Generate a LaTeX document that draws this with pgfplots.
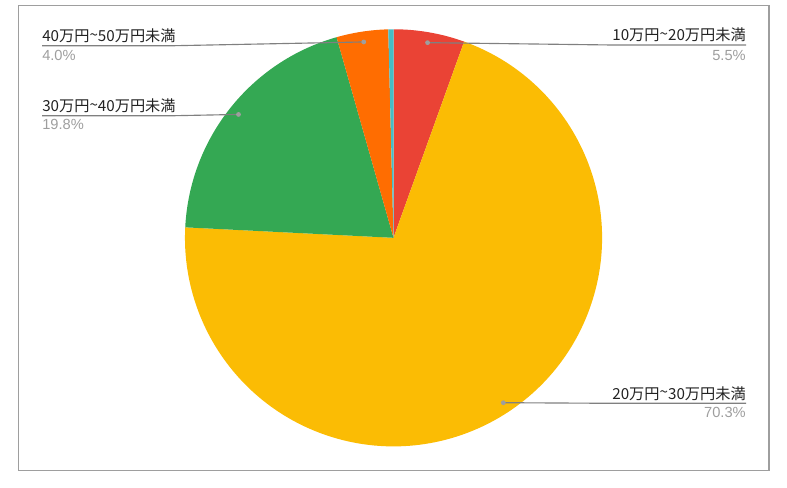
\documentclass[border=0pt]{standalone}
\usepackage{pgfplots}
\pgfplotsset{compat=1.18}
\usepackage{pgfplotstable}
\usepackage{fontspec}
\setmainfont{Liberation Sans}
\newfontfamily\cjk{Noto Sans CJK JP}

\definecolor{gred}{HTML}{EA4335}
\definecolor{gyellow}{HTML}{FBBC04}
\definecolor{ggreen}{HTML}{34A853}
\definecolor{gorange}{HTML}{FF6D01}
\definecolor{gteal}{HTML}{46BDC6}
\definecolor{labeltext}{HTML}{222222}
\definecolor{pcttext}{HTML}{9E9E9E}
\definecolor{leader}{HTML}{808080}
\definecolor{frame}{HTML}{9E9E9E}

% share of each slice, clockwise from 12 o'clock
\pgfplotstableread{
value colour
5.5  gred
70.3 gyellow
19.8 ggreen
4.0  gorange
0.4  gteal
}\piedata

% 1px = 0.75pt
\def\pieR{156.4pt}
\newcommand\lab[1]{{\cjk\fontsize{11.4}{13}\selectfont #1}}

\begin{document}
\begin{tikzpicture}
\begin{axis}[
  width=590.25pt, height=365.25pt, scale only axis,
  xmin=0, xmax=787, ymin=0, ymax=487, y dir=reverse,
  hide axis, clip=false,
  font=\fontsize{11}{13}\selectfont,
]
\path (axis cs:0,0) rectangle (axis cs:787,487);
\draw[frame, line width=0.9pt] (axis cs:18.5,5.5) rectangle (axis cs:769,470.3);

\pgfplotsextra{
  \coordinate (ctr) at (axis cs:393.5,237.8);
  \gdef\pieang{90}
  \foreach \i in {0,...,4} {
    \pgfplotstablegetelem{\i}{value}\of\piedata
    \let\sliceval\pgfplotsretval
    \pgfplotstablegetelem{\i}{colour}\of\piedata
    \let\slicecol\pgfplotsretval
    \pgfmathsetmacro\angend{\pieang-3.6*\sliceval}
    \pgfmathsetmacro\angmid{\pieang-1.8*\sliceval}
    \fill[fill=\slicecol] (ctr) -- ++(\pieang:\pieR)
      arc[start angle=\pieang, end angle=\angend, radius=\pieR] -- cycle;
    \path (ctr) ++(\angmid:0.95*\pieR) coordinate (d\i);
    \xdef\pieang{\angend}
  }
  % leader lines
  \draw[leader, line width=0.85pt] (d0) -- (axis cs:613,45) -- (axis cs:746,45);
  \draw[leader, line width=0.85pt] (d1) -- (axis cs:613,403.3) -- (axis cs:746,403.3);
  \draw[leader, line width=0.85pt] (d2) -- (axis cs:174,115.7) -- (axis cs:42,115.7);
  \draw[leader, line width=0.85pt] (d3) -- (axis cs:174,45.7) -- (axis cs:42,45.7);
  \foreach \i in {0,...,3} {\fill[pcttext] (d\i) circle[radius=1.8pt];}
  % labels
  \node[anchor=base east, labeltext, inner sep=0pt] at (axis cs:746,40.5) {\lab{10万円\raisebox{0.15ex}{\textasciitilde}20万円未満}};
  \node[anchor=base east, pcttext, inner sep=0pt] at (axis cs:746,60) {5.5\%};
  \node[anchor=base east, labeltext, inner sep=0pt] at (axis cs:746,399) {\lab{20万円\raisebox{0.15ex}{\textasciitilde}30万円未満}};
  \node[anchor=base east, pcttext, inner sep=0pt] at (axis cs:746,417) {70.3\%};
  \node[anchor=base west, labeltext, inner sep=0pt] at (axis cs:42,111.3) {\lab{30万円\raisebox{0.15ex}{\textasciitilde}40万円未満}};
  \node[anchor=base west, pcttext, inner sep=0pt] at (axis cs:42,129.5) {19.8\%};
  \node[anchor=base west, labeltext, inner sep=0pt] at (axis cs:42,41.3) {\lab{40万円\raisebox{0.15ex}{\textasciitilde}50万円未満}};
  \node[anchor=base west, pcttext, inner sep=0pt] at (axis cs:42,60) {4.0\%};
}
\end{axis}
\end{tikzpicture}
\end{document}
